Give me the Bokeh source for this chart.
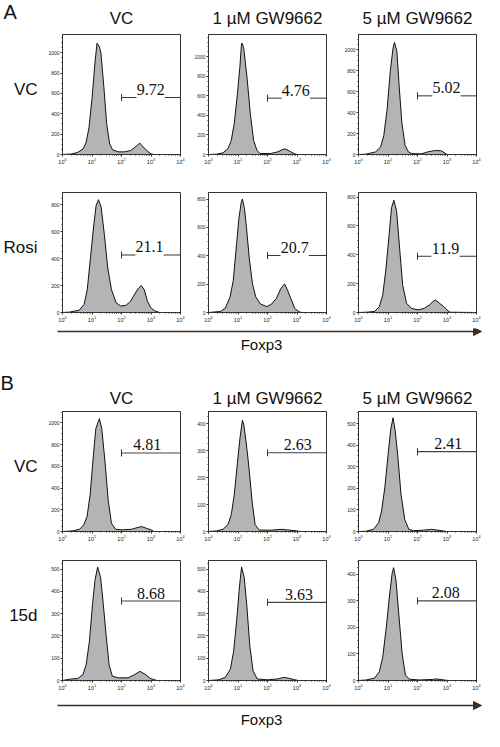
import numpy as np
from bokeh.plotting import figure
from bokeh.layouts import column, row
from bokeh.models import Range1d, FixedTicker, Spacer, Arrow, NormalHead
from bokeh.core.properties import value
from bokeh.embed import file_html
from bokeh.resources import INLINE

# ---------------- data ----------------
COLUMNS = ["VC", "1 µM GW9662", "5 µM GW9662"]
ROWS_A = ["VC", "Rosi"]
ROWS_B = ["VC", "15d"]
AXIS_LABEL = "Foxp3"
X_TICKS = [1, 10, 100, 1000, 10000]
GATE_START = 100

# Panel A, row VC
A_VC_VC_X = [1, 2, 3.16, 5, 6.3, 7.9, 10, 12.6, 14.8, 17.8, 20, 25, 31.6, 40, 50, 79, 126, 200, 282, 417, 501, 631, 794, 1000, 1259, 10000]
A_VC_VC_Y = [0, 5, 19, 54, 118, 262, 550, 902, 1094, 1060, 1000, 678, 294, 102, 45, 26, 26, 38, 70, 112, 86, 54, 29, 6, 0, 0]
A_VC_GW1_X = [1, 1.86, 3.09, 4.57, 5.9, 7.4, 9.5, 11.7, 12.9, 13.5, 14.5, 15.8, 20.4, 26.3, 33.9, 43.7, 56.2, 126, 224, 316, 398, 537, 794, 1000, 10000]
A_VC_GW1_Y = [0, 3, 17, 60, 143, 310, 610, 910, 1100, 1140, 1120, 1075, 776, 410, 143, 43, 10, 10, 27, 50, 57, 37, 10, 0, 0]
A_VC_GW5_X = [1, 1.78, 3.8, 5.6, 7.2, 9.3, 12, 14.8, 16.6, 20, 24, 29.5, 38, 49, 63, 135, 224, 372, 617, 794, 1000, 10000]
A_VC_GW5_Y = [0, 3, 25, 71, 180, 427, 800, 1015, 1071, 985, 644, 303, 87, 25, 9, 6, 25, 37, 37, 19, 0, 0]
# Panel A, row Rosi
A_ROSI_VC_X = [1, 1.74, 3.7, 5.4, 6.9, 8.9, 11.5, 13.8, 16.6, 20.4, 26.3, 33.9, 45.7, 66, 95, 141, 204, 295, 380, 468, 589, 759, 977, 1349, 1950, 10000]
A_ROSI_VC_Y = [0, 3, 17, 60, 169, 410, 651, 795, 838, 783, 578, 337, 169, 72, 48, 53, 84, 145, 181, 200, 169, 84, 36, 12, 0, 0]
A_ROSI_GW1_X = [1, 2.5, 3.7, 5.4, 6.9, 8.9, 10.7, 12.9, 14.1, 16.6, 19.5, 24, 30.9, 40, 57.5, 95.5, 138, 200, 282, 380, 479, 617, 832, 1175, 1479, 10000]
A_ROSI_GW1_Y = [0, 7, 30, 110, 225, 478, 662, 777, 800, 731, 593, 386, 202, 110, 60, 41, 60, 99, 168, 202, 156, 99, 30, 5, 0, 0]
A_ROSI_GW5_X = [1, 1.86, 3.5, 5.1, 6.6, 8.5, 11, 13.2, 15.8, 19.5, 25, 31.6, 42.7, 63, 105, 170, 251, 347, 417, 562, 776, 1000, 1259, 10000]
A_ROSI_GW5_Y = [0, 2, 7, 41, 119, 300, 548, 728, 778, 705, 435, 187, 63, 29, 18, 29, 52, 79, 86, 63, 41, 18, 2, 0]
# Panel B, row VC
B_VC_VC_X = [1, 2.3, 3.8, 5.2, 6.8, 8.7, 11.2, 13.5, 17.8, 21.4, 27.5, 35.5, 45.7, 63, 105, 224, 372, 479, 692, 1000, 1259, 10000]
B_VC_VC_Y = [0, 6, 21, 60, 136, 346, 708, 949, 1039, 949, 648, 286, 75, 21, 15, 21, 39, 45, 30, 15, 0, 0]
B_VC_GW1_X = [1, 1.86, 3.1, 4.57, 5.9, 7.4, 9.5, 11.7, 14.1, 15.8, 20.4, 24.5, 30.2, 38, 52.5, 135, 288, 479, 1000, 1288, 10000]
B_VC_GW1_Y = [0, 2, 8, 26, 62, 133, 252, 347, 413, 395, 300, 217, 109, 26, 5, 5, 8, 6, 2, 0, 0]
B_VC_GW5_X = [1, 1.74, 3.2, 4.8, 6.0, 7.8, 10, 12.3, 14.8, 17.4, 21.4, 27.5, 37, 51, 74, 158, 295, 437, 724, 912, 10000]
B_VC_GW5_Y = [0, 1, 10, 40, 92, 203, 352, 470, 527, 470, 352, 174, 55, 10, 4, 6, 10, 7, 3, 0, 0]
# Panel B, row 15d
B_15D_VC_X = [1, 1.78, 3.3, 4.9, 6.3, 8.1, 10.5, 12.6, 15.5, 19.5, 24, 30.2, 38, 49, 78, 166, 275, 417, 617, 955, 1349, 1585, 10000]
B_15D_VC_Y = [0, 6, 9, 26, 70, 172, 347, 449, 510, 464, 347, 201, 70, 19, 12, 12, 26, 41, 29, 9, 3, 0, 0]
B_15D_GW1_X = [1, 2.2, 3.7, 5.5, 7.1, 9.1, 11.2, 13.2, 16.2, 20, 25, 32.4, 44.7, 100, 219, 363, 525, 871, 1122, 10000]
B_15D_GW1_Y = [0, 3, 14, 51, 130, 275, 420, 510, 464, 333, 159, 43, 7, 3, 7, 14, 10, 3, 0, 0]
B_15D_GW5_X = [1, 1.82, 3.5, 5.1, 6.6, 8.7, 11.2, 13.8, 15.5, 18.6, 22.9, 30.2, 38.9, 52.5, 115, 324, 427, 912, 1202, 10000]
B_15D_GW5_Y = [0, 2, 9, 33, 87, 197, 318, 403, 425, 379, 258, 100, 21, 5, 2, 4, 6, 1, 0, 0]

# gate percentages
PCT_A = [[9.72, 4.76, 5.02], [21.1, 20.7, 11.9]]
PCT_B = [[4.81, 2.63, 2.41], [8.68, 3.63, 2.08]]
# gate heights (counts)
GATE_Y_A = [[560, 576, 560], [427, 402, 390]]
GATE_Y_B = [[723, 292, 370], [357, 351, 300]]
# y-axis extents / label tops / steps
YMAX_A = [[1180, 1227, 1146], [891, 846, 832]]
YMAX_B = [[1105, 445, 556], [539, 539, 452]]
YTOP_A = [[1000, 1000, 1000], [800, 800, 800]]
YTOP_B = [[1000, 400, 500], [500, 500, 400]]
YSTEP_A = [[200, 200, 200], [200, 200, 200]]
YSTEP_B = [[200, 100, 100], [100, 100, 100]]

# ---------------- layout / style ----------------
PAGE_W = 484
W, H = 118, 120
LABEL_W = 40
LB = [22, 22, 22]
RB = [6, 10, 8]
TB, BB = 4, 16
SANS = "Liberation Sans"
SERIF = "Liberation Serif"
FILL = "#b4b4b4"
DARK = "#333333"
LABEL_X_A = [[977, 912, 955], [891, 832, 891]]
LABEL_X_B = [[741, 1070, 1100], [1000, 1175, 912]]

frame_left = []
acc = LABEL_W
for i in range(3):
    frame_left.append(acc + LB[i])
    acc += LB[i] + W + RB[i]
col_center = [fl + W / 2 for fl in frame_left]


def base_fig(w, h):
    p = figure(width=w, height=h, x_range=Range1d(0, w), y_range=Range1d(h, 0),
               toolbar_location=None, output_backend="svg", min_border=0,
               x_axis_location=None, y_axis_location=None)
    p.outline_line_color = None
    p.xgrid.grid_line_color = None
    p.ygrid.grid_line_color = None
    return p


def add_text(p, x, y, t, size, align="center", font=SANS, baseline="middle", yoff=0):
    p.text(x=[x], y=[y], text=[t], text_font=value(font), text_font_size=size,
           text_align=align, text_baseline=baseline, text_color="#111111", y_offset=yoff)


def panel(xs, ys, ymax, top, step, gy, gx, pct, broken, i):
    p = figure(width=LB[i] + W + RB[i], height=TB + H + BB, x_axis_type="log",
               x_range=Range1d(X_TICKS[0], X_TICKS[-1]), y_range=Range1d(0, ymax),
               toolbar_location=None, output_backend="svg",
               min_border_left=LB[i], min_border_right=RB[i],
               min_border_top=TB, min_border_bottom=BB)
    p.xgrid.grid_line_color = None
    p.ygrid.grid_line_color = None
    p.outline_line_color = DARK
    p.outline_line_width = 1
    p.varea(x=xs, y1=0, y2=ys, fill_color=FILL)
    p.line(xs, ys, line_color="#111111", line_width=1)
    txt = f"{pct:.3g}"
    if broken:
        half = 10 ** 0.48
        p.segment(x0=[GATE_START, gx * half], y0=[gy, gy], x1=[gx / half, X_TICKS[-1]], y1=[gy, gy],
                  line_color=DARK, line_width=1)
    else:
        p.segment(x0=[GATE_START], y0=[gy], x1=[X_TICKS[-1]], y1=[gy], line_color="#444444", line_width=1.2)
    p.scatter(x=[GATE_START], y=[gy], marker="dash", size=7, angle=np.pi / 2,
              line_color=DARK, line_width=1)
    add_text(p, gx, gy, txt, "16px", font=SERIF, baseline="alphabetic", yoff=-8)
    minor_x = [m * d for d in X_TICKS[:-1] for m in range(2, 10)]
    p.xaxis.ticker = FixedTicker(ticks=X_TICKS, minor_ticks=minor_x)
    p.yaxis.ticker = FixedTicker(ticks=list(range(0, top + 1, step)),
                                 minor_ticks=list(range(0, int(ymax), step // 4)))
    for ax in (p.xaxis, p.yaxis):
        ax.axis_line_color = DARK
        ax.major_tick_line_color = DARK
        ax.minor_tick_line_color = DARK
        ax.major_tick_in = 0
        ax.major_tick_out = 2
        ax.minor_tick_in = 0
        ax.minor_tick_out = 1
        ax.major_label_text_font = SANS
        ax.major_label_text_font_size = "5px"
        ax.major_label_text_color = "#222222"
        ax.major_label_standoff = 1
    p.xaxis.major_label_text_font_size = "5.5px"
    return p


def row_label(t):
    p = base_fig(LABEL_W, TB + H + BB)
    add_text(p, 37, TB + H / 2, t, "17px", align="right")
    return p


A_DATA = [[(A_VC_VC_X, A_VC_VC_Y), (A_VC_GW1_X, A_VC_GW1_Y), (A_VC_GW5_X, A_VC_GW5_Y)],
          [(A_ROSI_VC_X, A_ROSI_VC_Y), (A_ROSI_GW1_X, A_ROSI_GW1_Y), (A_ROSI_GW5_X, A_ROSI_GW5_Y)]]
B_DATA = [[(B_VC_VC_X, B_VC_VC_Y), (B_VC_GW1_X, B_VC_GW1_Y), (B_VC_GW5_X, B_VC_GW5_Y)],
          [(B_15D_VC_X, B_15D_VC_Y), (B_15D_GW1_X, B_15D_GW1_Y), (B_15D_GW5_X, B_15D_GW5_Y)]]


def build_row(data, names, r, ymax, top, step, gys, gxs, pcts, broken):
    figs = [row_label(names[r])]
    for c in range(3):
        xs, ys = data[r][c]
        figs.append(panel(xs, ys, ymax[r][c], top[r][c], step[r][c], gys[r][c], gxs[r][c],
                          pcts[r][c], broken, c))
    return row(*figs)


# header A
header = base_fig(PAGE_W, 30)
add_text(header, 3, 11, "A", "20px", align="left")
for c in range(3):
    add_text(header, col_center[c], 18, COLUMNS[c], "17px")

# middle block: Foxp3 axis (A) + header B
MID_H = 79
mid = base_fig(PAGE_W, MID_H)
mid.add_layout(Arrow(end=NormalHead(size=8, fill_color=DARK, line_color=DARK),
                     x_start=57, y_start=3, x_end=481, y_end=3, line_color=DARK, line_width=1.5))
add_text(mid, 261, 16, AXIS_LABEL, "15px")
add_text(mid, 0, 54, "B", "20px", align="left")
for c in range(3):
    add_text(mid, col_center[c], 70, COLUMNS[c], "17px")

# footer
FOOT_H = 35
foot = base_fig(PAGE_W, FOOT_H)
foot.add_layout(Arrow(end=NormalHead(size=8, fill_color=DARK, line_color=DARK),
                      x_start=57, y_start=9, x_end=481, y_end=9, line_color=DARK, line_width=1.5))
add_text(foot, 261, 23, AXIS_LABEL, "15px")

rA1 = build_row(A_DATA, ROWS_A, 0, YMAX_A, YTOP_A, YSTEP_A, GATE_Y_A, LABEL_X_A, PCT_A, True)
rA2 = build_row(A_DATA, ROWS_A, 1, YMAX_A, YTOP_A, YSTEP_A, GATE_Y_A, LABEL_X_A, PCT_A, True)
rB1 = build_row(B_DATA, ROWS_B, 0, YMAX_B, YTOP_B, YSTEP_B, GATE_Y_B, LABEL_X_B, PCT_B, False)
rB2 = build_row(B_DATA, ROWS_B, 1, YMAX_B, YTOP_B, YSTEP_B, GATE_Y_B, LABEL_X_B, PCT_B, False)

layout = column(header, rA1, Spacer(width=PAGE_W, height=18), rA2, mid, rB1,
                Spacer(width=PAGE_W, height=9), rB2, foot)

open("out.html", "w").write(file_html(layout, INLINE))
